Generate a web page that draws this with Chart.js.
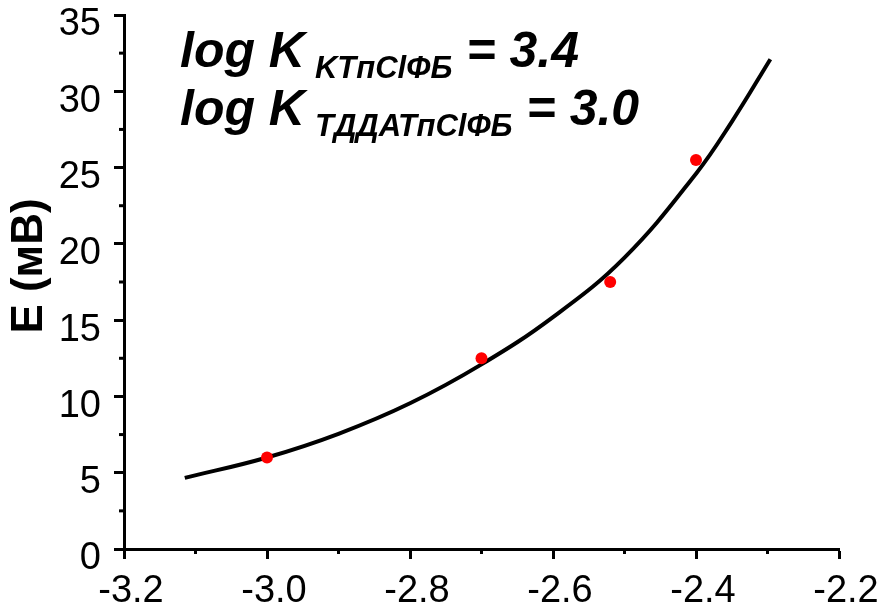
<!DOCTYPE html>
<html>
<head>
<meta charset="utf-8">
<script src="https://cdn.jsdelivr.net/npm/chart.js@4.4.0/dist/chart.umd.min.js"></script>
<style>
  body { margin: 0; background: #fff; }
  #wrap { width: 888px; height: 607px; }
</style>
</head>
<body>
<div id="wrap"><canvas id="chart" width="888" height="607"></canvas></div>
<script>
// measured points
const pointX = [-3.0, -2.7, -2.52, -2.4];
const pointY = [6.0, 12.5, 17.5, 25.5];

// fitted curve
const fitX = [-3.115, -3.0, -2.9, -2.8, -2.7, -2.6, -2.5, -2.4, -2.35, -2.296];
const fitY = [4.66, 6.0, 7.55, 9.55, 12.1, 15.2, 19.1, 24.6, 28.0, 32.1];

// axis ticks
const xMinorTicks = [-3.1, -2.9, -2.7, -2.5, -2.3];
const yMinorTicks = [2.5, 7.5, 12.5, 17.5, 22.5, 27.5, 32.5];

const yTitle = 'E (мВ)';
const notes = [
    { main: 'log K', sub: 'KTпClФБ', value: '= 3.4' },
    { main: 'log K', sub: 'ТДДАТпClФБ', value: '= 3.0' }
];

const FONT = '"Liberation Sans", Arial, sans-serif';

// minor ticks, y title and the log K text
const extrasPlugin = {
    id: 'extras',
    afterDraw(chart) {
        const ctx = chart.ctx;
        const xs = chart.scales.x;
        const ys = chart.scales.y;
        const area = chart.chartArea;
        ctx.save();
        ctx.strokeStyle = '#000';
        ctx.lineWidth = 3;
        xMinorTicks.forEach(v => {
            const px = xs.getPixelForValue(v);
            ctx.beginPath();
            ctx.moveTo(px, area.bottom);
            ctx.lineTo(px, area.bottom + 5);
            ctx.stroke();
        });
        yMinorTicks.forEach(v => {
            const py = ys.getPixelForValue(v);
            ctx.beginPath();
            ctx.moveTo(area.left, py);
            ctx.lineTo(area.left - 5, py);
            ctx.stroke();
        });

        // y axis title
        ctx.fillStyle = '#000';
        ctx.font = 'bold 44px ' + FONT;
        ctx.textAlign = 'center';
        ctx.textBaseline = 'middle';
        ctx.translate(30, 266);
        ctx.rotate(-Math.PI / 2);
        ctx.fillText(yTitle, 0, 0);
        ctx.setTransform(1, 0, 0, 1, 0, 0);

        // log K annotations
        ctx.textAlign = 'left';
        ctx.textBaseline = 'alphabetic';
        const baselines = [67, 125];
        notes.forEach((n, i) => {
            let x = 180;
            const b = baselines[i];
            ctx.font = 'italic bold 50px ' + FONT;
            ctx.fillText(n.main, x, b);
            x += ctx.measureText(n.main).width + 10;
            ctx.font = 'italic bold 31px ' + FONT;
            ctx.fillText(n.sub, x, b + 11);
            x += ctx.measureText(n.sub).width + 14;
            ctx.font = 'italic bold 50px ' + FONT;
            ctx.fillText(n.value, x, b);
        });
        ctx.restore();
    }
};

const ctx = document.getElementById('chart');
new Chart(ctx, {
    type: 'scatter',
    data: {
        datasets: [
            {
                label: 'fit',
                data: fitX.map((x, i) => ({ x: x, y: fitY[i] })),
                showLine: true,
                borderColor: '#000',
                borderWidth: 4,
                pointRadius: 0,
                tension: 0.4,
                order: 2
            },
            {
                label: 'data',
                data: pointX.map((x, i) => ({ x: x, y: pointY[i] })),
                backgroundColor: '#ff0000',
                borderColor: '#ff0000',
                pointRadius: 6,
                borderWidth: 0,
                order: 1
            }
        ]
    },
    options: {
        responsive: false,
        animation: false,
        layout: {
            padding: { top: 15, right: 49, left: 0, bottom: 0 }
        },
        plugins: {
            legend: { display: false },
            tooltip: { enabled: false }
        },
        scales: {
            x: {
                type: 'linear',
                min: -3.2,
                max: -2.2,
                border: { display: true, color: '#000', width: 3 },
                grid: {
                    drawOnChartArea: false,
                    tickLength: 10,
                    tickWidth: 3,
                    tickColor: '#000'
                },
                ticks: {
                    stepSize: 0.2,
                    color: '#000',
                    font: { family: FONT, size: 38 },
                    padding: 10,
                    labelOffset: 7,
                    maxRotation: 0,
                    callback: v => Number(v).toFixed(1)
                },
                afterFit: scale => {
                    scale.height = 58;
                    scale.paddingLeft = 0;
                    scale.paddingRight = 0;
                }
            },
            y: {
                type: 'linear',
                min: 0,
                max: 35,
                border: { display: true, color: '#000', width: 3 },
                grid: {
                    drawOnChartArea: false,
                    tickLength: 10,
                    tickWidth: 3,
                    tickColor: '#000'
                },
                ticks: {
                    stepSize: 5,
                    color: '#000',
                    font: { family: FONT, size: 38 },
                    padding: 13,
                    labelOffset: 10
                },
                afterFit: scale => {
                    scale.width = 124;
                    scale.paddingTop = 0;
                    scale.paddingBottom = 0;
                }
            }
        }
    },
    plugins: [extrasPlugin]
});
</script>
</body>
</html>
